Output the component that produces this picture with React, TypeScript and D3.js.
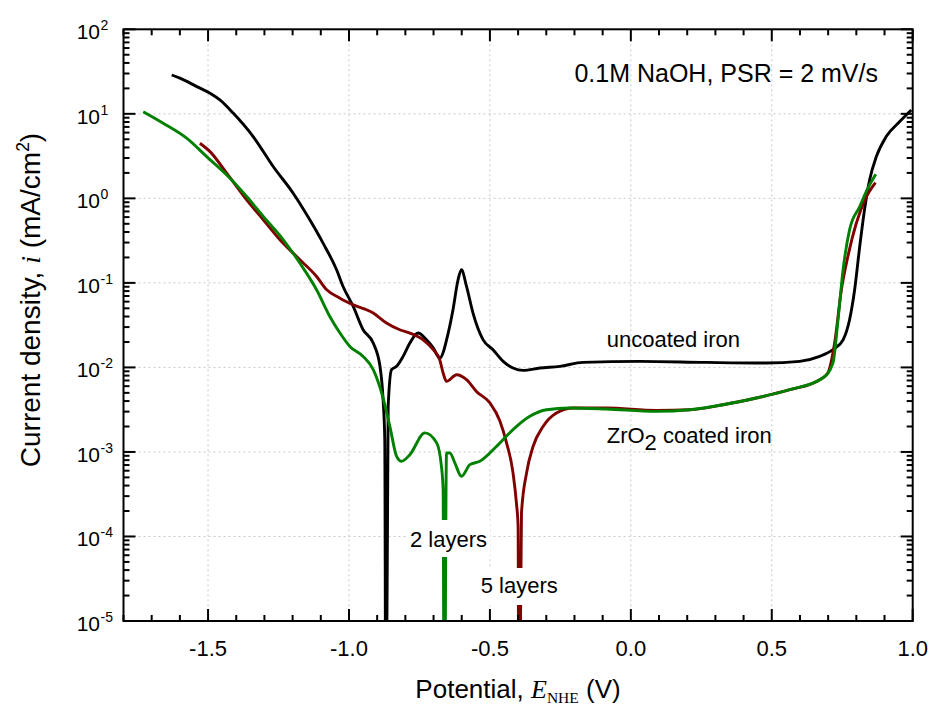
import React from 'react';
import * as d3 from 'd3';

// Uncoated iron (potential V vs NHE, current density mA/cm2)
const uncoatedE = [-1.629,-1.600,-1.540,-1.493,-1.458,-1.411,-1.340,-1.269,-1.198,-1.139,-1.092,-1.044,-1.021,-0.985,-0.950,-0.914,-0.890,-0.879,-0.873,-0.869,-0.861,-0.849,-0.831,-0.808,-0.784,-0.755,-0.725,-0.701,-0.678,-0.648,-0.631,-0.613,-0.601,-0.583,-0.560,-0.524,-0.489,-0.453,-0.418,-0.382,-0.323,-0.252,-0.170,0.032,0.268,0.481,0.599,0.670,0.717,0.753,0.776,0.794,0.812,0.829,0.847,0.871,0.906,0.954,0.995];
const uncoatedI = [28.8,26.4,21.0,17.5,14.6,10.2,5.38,2.38,1.15,0.557,0.295,0.143,0.0907,0.0526,0.0279,0.0194,0.0103,0.00415,0.0014,1e-7,0.00346,0.0094,0.0103,0.0135,0.0194,0.0255,0.0212,0.0170,0.0129,0.0255,0.0481,0.109,0.143,0.0907,0.044,0.0212,0.0162,0.0118,0.00984,0.00922,0.00984,0.0103,0.01146,0.0118,0.01146,0.01127,0.0118,0.0135,0.0162,0.0212,0.0366,0.0829,0.269,0.731,1.65,3.12,5.38,8.09,11.1];

// ZrO2 coated, 5 layers
const layers5E = [-1.529,-1.493,-1.434,-1.363,-1.304,-1.245,-1.174,-1.115,-1.079,-1.032,-0.985,-0.914,-0.867,-0.820,-0.784,-0.737,-0.701,-0.678,-0.666,-0.654,-0.618,-0.583,-0.548,-0.500,-0.465,-0.441,-0.418,-0.406,-0.400,-0.397,-0.388,-0.370,-0.347,-0.311,-0.264,-0.205,-0.087,0.091,0.209,0.327,0.445,0.564,0.670,0.699,0.723,0.747,0.770,0.800,0.836,0.868];
const layers5I = [4.49,3.57,1.99,0.96,0.557,0.323,0.1875,0.119,0.0828,0.066,0.0551,0.044,0.0335,0.0279,0.0255,0.0212,0.0162,0.0123,0.00859,0.00683,0.0082,0.00716,0.0052,0.0038,0.00234,0.00128,0.000565,0.000249,0.000132,1e-7,0.00019,0.000565,0.00116,0.00201,0.00289,0.00331,0.00331,0.0031,0.00316,0.00362,0.00435,0.00545,0.00716,0.0086,0.0194,0.0828,0.205,0.509,1.05,1.54];

// ZrO2 coated, 2 layers
const layers2E = [-1.730,-1.659,-1.576,-1.505,-1.422,-1.363,-1.304,-1.233,-1.174,-1.115,-1.068,-1.032,-0.997,-0.950,-0.914,-0.884,-0.855,-0.831,-0.8135,-0.784,-0.731,-0.689,-0.672,-0.666,-0.662,-0.654,-0.642,-0.6245,-0.601,-0.571,-0.536,-0.477,-0.418,-0.3585,-0.299,-0.217,-0.087,0.091,0.209,0.327,0.445,0.564,0.681,0.717,0.735,0.753,0.776,0.812,0.841,0.869];
const layers2I = [10.6,7.74,5.15,3.12,1.73,1.05,0.61,0.323,0.171,0.0828,0.0401,0.0255,0.0177,0.0135,0.0094,0.00498,0.00201,0.000887,0.000775,0.000929,0.00168,0.00128,0.000676,0.000358,1e-7,0.000973,0.000973,0.000741,0.000515,0.000708,0.000775,0.00116,0.00184,0.00264,0.00316,0.00331,0.00322,0.00302,0.00316,0.00362,0.00435,0.00545,0.0075,0.0113,0.0366,0.143,0.425,0.80,1.32,1.93];

const xMajorTicks = [-1.5, -1.0, -0.5, 0.0, 0.5, 1.0];
const xTickLabels = ['-1.5', '-1.0', '-0.5', '0.0', '0.5', '1.0'];
const yExponents = [2, 1, 0, -1, -2, -3, -4, -5];

const W = 929, H = 705;
const PL = 123.5, PR = 912.7, PT = 29.3, PB = 621;
const SANS = '"Liberation Sans", Arial, Helvetica, sans-serif';
const SERIF = '"Liberation Serif", "Times New Roman", serif';

export default function App() {
  const x = d3.scaleLinear().domain([-1.8, 1.0]).range([PL, PR]);
  const y = d3.scaleLog().domain([1e-5, 1e2]).range([PB, PT]);

  const line = d3.line<[number, number]>()
    .x(d => x(d[0]))
    .y(d => y(Math.max(d[1], 1e-8)))
    .curve(d3.curveMonotoneX);

  const zip = (a: number[], b: number[]) => a.map((v, i) => [v, b[i]] as [number, number]);

  const xMinor = d3.range(-18, 11).map(v => v / 10).filter(v => Math.abs(Math.round(v * 2) - v * 2) > 1e-6);
  const yMinor: number[] = [];
  for (let e = -5; e < 2; e++) for (let m = 2; m <= 9; m++) yMinor.push(m * Math.pow(10, e));

  const gridX = [-1.5, -1.0, -0.5, 0.0, 0.5];
  const gridY = [1e1, 1e0, 1e-1, 1e-2, 1e-3, 1e-4];

  const majorLen = 12, minorLen = 6;

  return (
    <svg width={W} height={H} style={{ position: 'absolute', left: 0, top: 0, background: '#fff' }}>
      <defs>
        <clipPath id="plot">
          <rect x={PL} y={PT} width={PR - PL} height={PB - PT} />
        </clipPath>
      </defs>
      <rect x={0} y={0} width={W} height={H} fill="#fff" />
      {/* grid */}
      <g stroke="#c8c8c8" strokeWidth={1} strokeDasharray="2,3">
        {gridX.map(v => <line key={'gx' + v} x1={x(v)} x2={x(v)} y1={PT} y2={PB} />)}
        {gridY.map(v => <line key={'gy' + v} x1={PL} x2={PR} y1={y(v)} y2={y(v)} />)}
      </g>
      {/* curves */}
      <g clipPath="url(#plot)" fill="none" strokeWidth={2.9} strokeLinejoin="round">
        <path d={line(zip(uncoatedE, uncoatedI)) || ''} stroke="#000000" />
        <path d={line(zip(layers5E, layers5I)) || ''} stroke="#800000" />
        <path d={line(zip(layers2E, layers2I)) || ''} stroke="#008000" />
      </g>
      {/* frame and ticks */}
      <g stroke="#000" strokeWidth={2}>
        <rect x={PL} y={PT} width={PR - PL} height={PB - PT} fill="none" />
        {xMajorTicks.map(v => (
          <g key={'xt' + v}>
            <line x1={x(v)} x2={x(v)} y1={PB} y2={PB - majorLen} />
            <line x1={x(v)} x2={x(v)} y1={PT} y2={PT + majorLen} />
          </g>
        ))}
        {xMinor.map(v => (
          <g key={'xm' + v}>
            <line x1={x(v)} x2={x(v)} y1={PB} y2={PB - minorLen} />
            <line x1={x(v)} x2={x(v)} y1={PT} y2={PT + minorLen} />
          </g>
        ))}
        {yExponents.map(e => (
          <g key={'yt' + e}>
            <line x1={PL} x2={PL + majorLen} y1={y(Math.pow(10, e))} y2={y(Math.pow(10, e))} />
            <line x1={PR} x2={PR - majorLen} y1={y(Math.pow(10, e))} y2={y(Math.pow(10, e))} />
          </g>
        ))}
        {yMinor.map((v, i) => (
          <g key={'ym' + i}>
            <line x1={PL} x2={PL + minorLen} y1={y(v)} y2={y(v)} />
            <line x1={PR} x2={PR - minorLen} y1={y(v)} y2={y(v)} />
          </g>
        ))}
      </g>
      {/* x tick labels */}
      <g fontFamily={SANS} fontSize={22} textAnchor="middle" fill="#000">
        {xMajorTicks.map((v, i) => (
          <text key={'xl' + v} x={x(v)} y={PB + 35}>{xTickLabels[i]}</text>
        ))}
      </g>
      {/* y tick labels */}
      <g fontFamily={SANS} fill="#000">
        {yExponents.map(e => (
          <g key={'yl' + e}>
            <text x={100} y={y(Math.pow(10, e)) + 10} fontSize={21} textAnchor="end">10</text>
            <text x={100.5} y={y(Math.pow(10, e)) + 1} fontSize={14} textAnchor="start">{String(e)}</text>
          </g>
        ))}
      </g>
      {/* axis titles */}
      <text x={518} y={698} fontFamily={SANS} fontSize={26} textAnchor="middle" fill="#000">
        Potential,{' '}
        <tspan fontFamily={SERIF} fontStyle="italic">E</tspan>
        <tspan fontFamily={SERIF} fontSize={15.5} dy={5}>NHE</tspan>
        <tspan dy={-5}> (V)</tspan>
      </text>
      <text transform={`translate(40,300) rotate(-90)`} fontFamily={SANS} fontSize={28} textAnchor="middle" fill="#000">
        Current density,{' '}
        <tspan fontFamily={SERIF} fontStyle="italic">i</tspan>
        <tspan> (mA/cm</tspan>
        <tspan fontSize={17.5} dy={-11}>2</tspan>
        <tspan dy={11}>)</tspan>
      </text>
      {/* annotations */}
      <text x={878} y={81.7} fontFamily={SANS} fontSize={25} textAnchor="end" fill="#000">0.1M NaOH, PSR = 2 mV/s</text>
      <text x={606.7} y={346.7} fontFamily={SANS} fontSize={22} fill="#000">uncoated iron</text>
      <text x={606.7} y={443.3} fontFamily={SANS} fontSize={22} fill="#000">
        ZrO<tspan dy={7}>2</tspan><tspan dy={-7}> coated iron</tspan>
      </text>
      <rect x={406} y={520} width={84} height={37} fill="#fff" />
      <text x={410} y={546.7} fontFamily={SANS} fontSize={22} fill="#000">2 layers</text>
      <rect x={477} y={568} width={84} height={37} fill="#fff" />
      <text x={480.7} y={593.3} fontFamily={SANS} fontSize={22} fill="#000">5 layers</text>
    </svg>
  );
}
